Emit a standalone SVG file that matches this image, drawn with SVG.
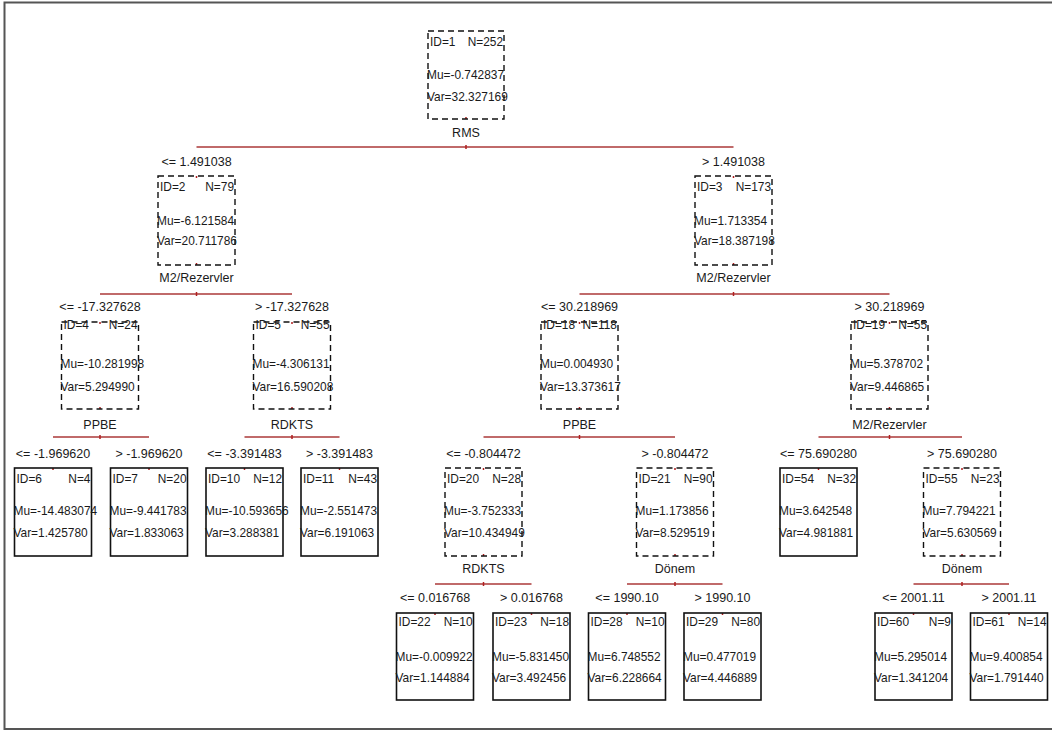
<svg xmlns="http://www.w3.org/2000/svg" width="1052" height="731" viewBox="0 0 1052 731">
<style>
text{font-family:"Liberation Sans",Arial,sans-serif;font-size:11.9px;fill:#1a1a1a}
.c{text-anchor:middle;font-size:12.5px}
.e{text-anchor:end}
.bi{fill:none;stroke:#111;stroke-width:1.4;stroke-dasharray:6,4}
.bl{fill:none;stroke:#111;stroke-width:1.6}
.ln{stroke:#c06a6a;stroke-width:2;fill:none}
.tk{stroke:#b02020;stroke-width:1.5;fill:none}
</style>
<rect x="4.5" y="2.5" width="1060" height="726.5" fill="#fff" stroke="#555" stroke-width="2"/>
<g id="connectors">
<path class="ln" d="M196.5 147H733.5M100 294H292M579.5 294H889.5M53 437H149M244.5 437H339.5M483.5 437H675M818.5 437H962M435 584H531.5M627 584H722.5M913.5 584H1009"/>
<path class="tk" d="M466 145v4M196.5 292v4M733.5 292v4M579.5 435v4M889.5 435v4M100 435v4M292 435v4M483.5 582v4M675 582v4M962 582v4M466 117v2M196.5 263v2M733.5 263v2M100 407v2M292 407v2M579.5 407v2M889.5 407v2M483.5 554v2M675 554v2M962 554v2M196.5 176v2M733.5 176v2M100 322v2M292 322v2M579.5 322v2M889.5 322v2M53 468v2M149 468v2M244.5 468v2M339.5 468v2M483.5 468v2M675 468v2M818.5 468v2M962 468v2M435 613v2M531.5 613v2M627 613v2M722.5 613v2M913.5 613v2M1009 613v2"/>
</g>
<g id="node1"><rect class="bi" x="428" y="31" width="76" height="88"/><text x="430" y="46">ID=1</text><text class="e" x="503" y="46">N=252</text><text x="427" y="79">Mu=-0.742837</text><text x="427" y="101">Var=32.327169</text><text class="c" x="466" y="137">RMS</text></g>
<g id="node2"><text class="c" x="196.5" y="166">&lt;= 1.491038</text><rect class="bi" x="158" y="176" width="77" height="89"/><text x="160" y="191">ID=2</text><text class="e" x="234" y="191">N=79</text><text x="157" y="225">Mu=-6.121584</text><text x="157" y="245">Var=20.711786</text><text class="c" x="196.5" y="282">M2/Rezervler</text></g>
<g id="node3"><text class="c" x="733.5" y="166">&gt; 1.491038</text><rect class="bi" x="695" y="176" width="77" height="89"/><text x="697" y="191">ID=3</text><text class="e" x="771" y="191">N=173</text><text x="694" y="225">Mu=1.713354</text><text x="694" y="245">Var=18.387198</text><text class="c" x="733.5" y="282">M2/Rezervler</text></g>
<g id="node4"><text class="c" x="100" y="311">&lt;= -17.327628</text><rect class="bi" x="61.5" y="322" width="77" height="87"/><text x="63.5" y="329">ID=4</text><text class="e" x="137.5" y="329">N=24</text><text x="60.5" y="368">Mu=-10.281998</text><text x="60.5" y="391">Var=5.294990</text><text class="c" x="100" y="429">PPBE</text></g>
<g id="node5"><text class="c" x="292" y="311">&gt; -17.327628</text><rect class="bi" x="253.5" y="322" width="77" height="87"/><text x="255.5" y="329">ID=5</text><text class="e" x="329.5" y="329">N=55</text><text x="252.5" y="368">Mu=-4.306131</text><text x="252.5" y="391">Var=16.590208</text><text class="c" x="292" y="429">RDKTS</text></g>
<g id="node18"><text class="c" x="579.5" y="311">&lt;= 30.218969</text><rect class="bi" x="541" y="322" width="77" height="87"/><text x="543" y="329">ID=18</text><text class="e" x="617" y="329">N=118</text><text x="540" y="368">Mu=0.004930</text><text x="540" y="391">Var=13.373617</text><text class="c" x="579.5" y="429">PPBE</text></g>
<g id="node19"><text class="c" x="889.5" y="311">&gt; 30.218969</text><rect class="bi" x="851" y="322" width="77" height="87"/><text x="853" y="329">ID=19</text><text class="e" x="927" y="329">N=55</text><text x="850" y="368">Mu=5.378702</text><text x="850" y="391">Var=9.446865</text><text class="c" x="889.5" y="429">M2/Rezervler</text></g>
<g id="node6"><text class="c" x="53" y="458">&lt;= -1.969620</text><rect class="bl" x="14.5" y="468" width="77" height="88"/><text x="16.5" y="483">ID=6</text><text class="e" x="90.5" y="483">N=4</text><text x="13.5" y="515">Mu=-14.483074</text><text x="13.5" y="537">Var=1.425780</text></g>
<g id="node7"><text class="c" x="149" y="458">&gt; -1.969620</text><rect class="bl" x="110.5" y="468" width="77" height="88"/><text x="112.5" y="483">ID=7</text><text class="e" x="186.5" y="483">N=20</text><text x="109.5" y="515">Mu=-9.441783</text><text x="109.5" y="537">Var=1.833063</text></g>
<g id="node10"><text class="c" x="244.5" y="458">&lt;= -3.391483</text><rect class="bl" x="206" y="468" width="77" height="88"/><text x="208" y="483">ID=10</text><text class="e" x="282" y="483">N=12</text><text x="205" y="515">Mu=-10.593656</text><text x="205" y="537">Var=3.288381</text></g>
<g id="node11"><text class="c" x="339.5" y="458">&gt; -3.391483</text><rect class="bl" x="301" y="468" width="77" height="88"/><text x="303" y="483">ID=11</text><text class="e" x="377" y="483">N=43</text><text x="300" y="515">Mu=-2.551473</text><text x="300" y="537">Var=6.191063</text></g>
<g id="node20"><text class="c" x="483.5" y="458">&lt;= -0.804472</text><rect class="bi" x="445" y="468" width="77" height="88"/><text x="447" y="483">ID=20</text><text class="e" x="521" y="483">N=28</text><text x="444" y="515">Mu=-3.752333</text><text x="444" y="537">Var=10.434949</text><text class="c" x="483.5" y="573">RDKTS</text></g>
<g id="node21"><text class="c" x="675" y="458">&gt; -0.804472</text><rect class="bi" x="636.5" y="468" width="77" height="88"/><text x="638.5" y="483">ID=21</text><text class="e" x="712.5" y="483">N=90</text><text x="635.5" y="515">Mu=1.173856</text><text x="635.5" y="537">Var=8.529519</text><text class="c" x="675" y="573">Dönem</text></g>
<g id="node54"><text class="c" x="818.5" y="458">&lt;= 75.690280</text><rect class="bl" x="780" y="468" width="77" height="88"/><text x="782" y="483">ID=54</text><text class="e" x="856" y="483">N=32</text><text x="779" y="515">Mu=3.642548</text><text x="779" y="537">Var=4.981881</text></g>
<g id="node55"><text class="c" x="962" y="458">&gt; 75.690280</text><rect class="bi" x="923.5" y="468" width="77" height="88"/><text x="925.5" y="483">ID=55</text><text class="e" x="999.5" y="483">N=23</text><text x="922.5" y="515">Mu=7.794221</text><text x="922.5" y="537">Var=5.630569</text><text class="c" x="962" y="573">Dönem</text></g>
<g id="node22"><text class="c" x="435" y="602">&lt;= 0.016768</text><rect class="bl" x="396.5" y="613" width="77" height="87"/><text x="398.5" y="626">ID=22</text><text class="e" x="472.5" y="626">N=10</text><text x="395.5" y="661">Mu=-0.009922</text><text x="395.5" y="682">Var=1.144884</text></g>
<g id="node23"><text class="c" x="531.5" y="602">&gt; 0.016768</text><rect class="bl" x="493" y="613" width="77" height="87"/><text x="495" y="626">ID=23</text><text class="e" x="569" y="626">N=18</text><text x="492" y="661">Mu=-5.831450</text><text x="492" y="682">Var=3.492456</text></g>
<g id="node28"><text class="c" x="627" y="602">&lt;= 1990.10</text><rect class="bl" x="588.5" y="613" width="77" height="87"/><text x="590.5" y="626">ID=28</text><text class="e" x="664.5" y="626">N=10</text><text x="587.5" y="661">Mu=6.748552</text><text x="587.5" y="682">Var=6.228664</text></g>
<g id="node29"><text class="c" x="722.5" y="602">&gt; 1990.10</text><rect class="bl" x="684" y="613" width="77" height="87"/><text x="686" y="626">ID=29</text><text class="e" x="760" y="626">N=80</text><text x="683" y="661">Mu=0.477019</text><text x="683" y="682">Var=4.446889</text></g>
<g id="node60"><text class="c" x="913.5" y="602">&lt;= 2001.11</text><rect class="bl" x="875" y="613" width="77" height="87"/><text x="877" y="626">ID=60</text><text class="e" x="951" y="626">N=9</text><text x="874" y="661">Mu=5.295014</text><text x="874" y="682">Var=1.341204</text></g>
<g id="node61"><text class="c" x="1009" y="602">&gt; 2001.11</text><rect class="bl" x="970.5" y="613" width="77" height="87"/><text x="972.5" y="626">ID=61</text><text class="e" x="1046.5" y="626">N=14</text><text x="969.5" y="661">Mu=9.400854</text><text x="969.5" y="682">Var=1.791440</text></g>
</svg>
